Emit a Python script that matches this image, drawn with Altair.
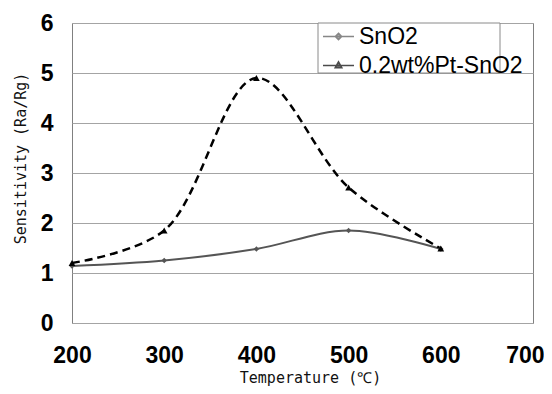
import altair as alt
import pandas as pd

temps = [200, 300, 400, 500, 600]
sno2 = [1.14, 1.25, 1.48, 1.85, 1.48]
pt_sno2 = [1.20, 1.85, 4.90, 2.71, 1.49]
series = ["SnO2", "0.2wt%Pt-SnO2"]
x_ticks = [200, 300, 400, 500, 600, 700]
y_ticks = [0, 1, 2, 3, 4, 5, 6]

rows = []
for t, v in zip(temps, sno2):
    rows.append({"T": t, "S": v, "series": series[0]})
for t, v in zip(temps, pt_sno2):
    rows.append({"T": t, "S": v, "series": series[1]})
df = pd.DataFrame(rows)

colors = ["#555555", "#000000"]
legend_paths = [
    "M-1,0H1M0,-0.2L0.2,0L0,0.2L-0.2,0Z",
    "M-1,0H1M0,-0.24L0.21,0.14L-0.21,0.14Z",
]

x_enc = alt.X("T:Q", scale=alt.Scale(domain=[200, 700], nice=False),
              axis=alt.Axis(values=x_ticks, title="Temperature (℃)", grid=False,
                            ticks=False, domain=False,
                            labelFont="Liberation Sans", labelFontSize=23,
                            labelFontWeight="bold", labelColor="#000000",
                            labelPadding=21, labelFlush=False,
                            labelAlign={"condition": {"test": "datum.value === 700", "value": "right"}, "value": "center"},
                            labelOffset={"condition": {"test": "datum.value === 700", "value": 11}, "value": 0},
                            titleFont="DejaVu Sans Mono", titleFontSize=15,
                            titleFontWeight="normal", titleColor="#111111",
                            titleX=238, titleY=54, titleBaseline="middle"))
y_enc = alt.Y("S:Q", scale=alt.Scale(domain=[0, 6], nice=False),
              axis=alt.Axis(values=y_ticks, title="Sensitivity (Ra/Rg)",
                            grid=True, gridColor="#a4a4a4", gridWidth=1, gridOpacity=1,
                            ticks=False, domain=False,
                            labelFont="Liberation Sans", labelFontSize=23,
                            labelFontWeight="bold", labelColor="#000000",
                            labelPadding=19,
                            titleFont="DejaVu Sans Mono", titleFontSize=15,
                            titleFontWeight="normal", titleColor="#111111",
                            titleX=-52, titleY=135, titleBaseline="middle",
                            titleAngle=-90))

base = alt.Chart(df)

line_sno2 = base.transform_filter(alt.datum.series == series[0]).mark_line(
    color=colors[0], strokeWidth=2, interpolate="catmull-rom"
).encode(x=x_enc, y=y_enc)

line_pt = base.transform_filter(alt.datum.series == series[1]).mark_line(
    color=colors[1], strokeWidth=2.5, strokeDash=[8, 5], interpolate="catmull-rom"
).encode(x=x_enc, y=y_enc)

pts_sno2 = base.transform_filter(alt.datum.series == series[0]).mark_point(
    shape="diamond", filled=True, color=colors[0], size=30, opacity=1
).encode(x=x_enc, y=y_enc)

pts_pt = base.transform_filter(alt.datum.series == series[1]).mark_point(
    shape="triangle-up", filled=True, color=colors[1], size=45, opacity=1
).encode(x=x_enc, y=y_enc)

legend_box = alt.Chart(pd.DataFrame({"a": [0]})).mark_rect(
    fill="white", stroke="#8a8a8a", strokeWidth=1
).encode(x=alt.value(246), x2=alt.value(428), y=alt.value(0), y2=alt.value(50))

leg = alt.Legend(
    title=None, orient="none", legendX=250, legendY=-3, padding=0,
    labelFont="Liberation Sans", labelFontSize=23, labelColor="#000000",
    labelOffset=4, symbolSize=961, symbolStrokeWidth=1.6, rowPadding=-5,
    labelLimit=400,
)
legend_layer = base.transform_filter("false").mark_point(filled=True).encode(
    x=x_enc, y=y_enc,
    shape=alt.Shape("series:N", scale=alt.Scale(domain=series, range=legend_paths), legend=leg),
    fill=alt.Fill("series:N", scale=alt.Scale(domain=series, range=colors), legend=leg),
    stroke=alt.Stroke("series:N", scale=alt.Scale(domain=series, range=colors), legend=leg),
)

chart = alt.layer(
    line_sno2, legend_box, line_pt, pts_sno2, pts_pt, legend_layer
).properties(
    width=461, height=300,
    autosize=alt.AutoSizeParams(type="none"),
    padding={"left": 64, "top": 15, "right": 11, "bottom": 63},
    background="white",
).configure_view(stroke="#808080", strokeWidth=1)

chart.save("out.html", embed_options={"renderer": "svg", "actions": False})
